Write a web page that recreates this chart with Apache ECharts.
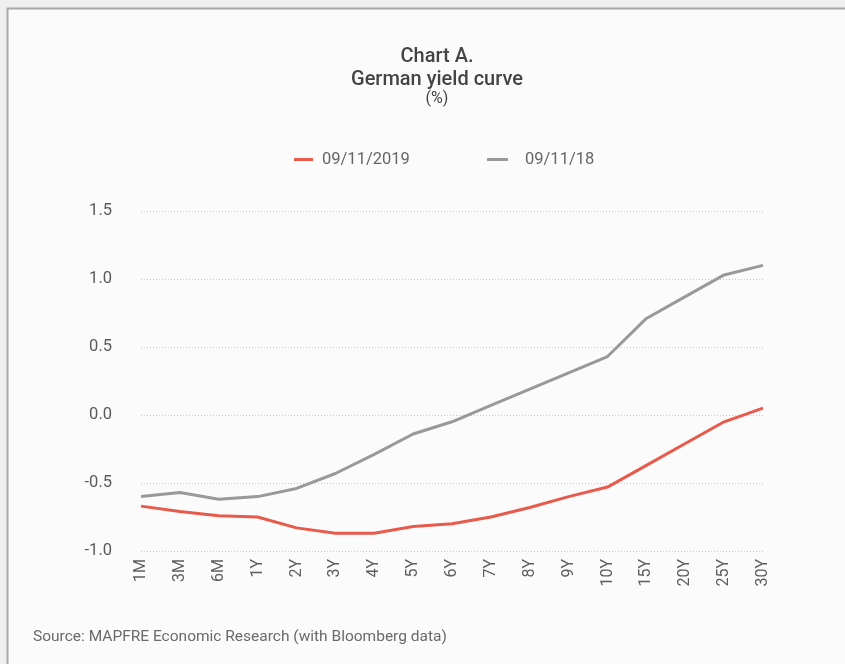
<!DOCTYPE html>
<html>
<head>
<meta charset="utf-8">
<style>
  html, body { margin: 0; padding: 0; background: #efefef; }
  #chart { width: 845px; height: 664px; }
</style>
<script src="https://cdn.jsdelivr.net/npm/echarts@6/dist/echarts.min.js"></script>
</head>
<body>
<div id="chart"></div>
<script>
// Maturities along the curve
const maturities = ['1M','3M','6M','1Y','2Y','3Y','4Y','5Y','6Y','7Y','8Y','9Y','10Y','15Y','20Y','25Y','30Y'];

// Bund yields (%) on each date
const yields2019 = [-0.67,-0.71,-0.74,-0.75,-0.83,-0.87,-0.87,-0.82,-0.80,-0.75,-0.68,-0.60,-0.53,-0.37,-0.21,-0.05,0.05];
const yields2018 = [-0.60,-0.57,-0.62,-0.60,-0.54,-0.43,-0.29,-0.14,-0.05,0.07,0.19,0.31,0.43,0.71,0.87,1.03,1.10];

const seriesNames = ['09/11/2019', '09/11/18'];
const seriesColors = ['#e85a4c', '#999999'];
const yTicks = { min: -1, max: 1.5, step: 0.5 };

const font = 'Roboto, "Noto Sans", sans-serif';
const chart = echarts.init(document.getElementById('chart'));

// one legend block per series so each entry sits at its own spot
const legendAt = (name, left, iconWidth, textGap) => ({
  top: 151,
  left: left,
  padding: 0,
  itemWidth: iconWidth,
  itemHeight: 3,
  icon: 'rect',
  textStyle: { fontSize: 16.5, color: '#666', fontFamily: font, padding: [0, 0, 0, textGap] },
  data: [name]
});

chart.setOption({
  backgroundColor: '#efefef',
  animation: false,
  textStyle: { fontFamily: font },
  graphic: [
    {
      type: 'rect',
      z: -10,
      shape: { x: 7.5, y: 8.5, width: 900, height: 700 },
      style: { fill: '#fbfbfb', stroke: '#a8a8a8', lineWidth: 2 }
    },
    {
      type: 'text',
      left: 33, top: 629,
      style: { text: 'Source: MAPFRE Economic Research (with Bloomberg data)', fill: '#6a6a6a', font: '15.5px ' + font }
    }
  ],
  title: {
    text: 'Chart A.\nGerman yield curve',
    subtext: '(%)',
    left: 432, top: 40,
    textAlign: 'center',
    itemGap: 0,
    textStyle: { fontSize: 20, fontWeight: 500, color: '#444444', lineHeight: 23, fontFamily: font },
    subtextStyle: { fontSize: 16, color: '#444444', fontFamily: font }
  },
  legend: [legendAt(seriesNames[0], 294, 19, 4), legendAt(seriesNames[1], 487, 21, 12)],
  grid: { left: 141, right: 82, top: 211, bottom: 113 },
  xAxis: {
    type: 'category',
    data: maturities,
    boundaryGap: false,
    axisLine: { show: false },
    axisTick: { show: false },
    axisLabel: { rotate: 90, margin: 8, fontSize: 16, color: '#5e5e5e', fontFamily: font, interval: 0 }
  },
  yAxis: {
    type: 'value',
    min: yTicks.min, max: yTicks.max, interval: yTicks.step,
    axisLine: { show: false },
    axisTick: { show: false },
    axisLabel: { margin: 29, fontSize: 16.5, color: '#5a5a5a', fontFamily: font, formatter: v => v.toFixed(1) },
    splitLine: { lineStyle: { color: '#c8c8c8', type: [1, 2], width: 1 } }
  },
  series: [
    {
      name: seriesNames[0], type: 'line', data: yields2019,
      symbol: 'none', lineStyle: { color: seriesColors[0], width: 3 }, itemStyle: { color: seriesColors[0] }, z: 3
    },
    {
      name: seriesNames[1], type: 'line', data: yields2018,
      symbol: 'none', lineStyle: { color: seriesColors[1], width: 3 }, itemStyle: { color: seriesColors[1] }, z: 2
    }
  ]
});
</script>
</body>
</html>
